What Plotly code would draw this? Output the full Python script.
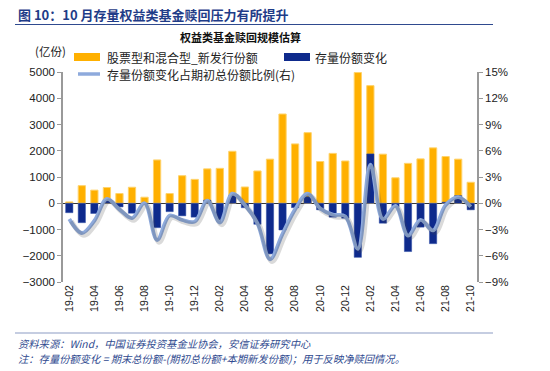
import plotly.graph_objects as go

months = ["19-02","19-03","19-04","19-05","19-06","19-07","19-08","19-09","19-10","19-11","19-12",
          "20-01","20-02","20-03","20-04","20-05","20-06","20-07","20-08","20-09","20-10","20-11","20-12",
          "21-01","21-02","21-03","21-04","21-05","21-06","21-07","21-08","21-09","21-10"]
new_issue = [50, 670, 500, 600, 370, 610, 230, 1650, 370, 1050, 910,
             1310, 1330, 1980, 620, 1230, 1680, 3400, 2260, 2690, 1590, 1900, 1610,
             4980, 4480, 1870, 970, 1520, 1690, 2110, 1780, 1680, 800]
stock_change = [-360, -740, -390, 90, -140, -380, -20, -930, -320, -480, -530,
                120, -630, 300, -170, -800, -1930, -1020, -170, 250, -250, -530, -570,
                -2060, 1880, -760, -130, -1840, -910, -1540, 40, 290, -250]
ratio_pct = [-1.8, -3.4, -2.0, 0.5, -0.7, -1.7, 0.0, -4.2, -1.4, -1.9, -2.1,
             0.3, -2.2, 1.1, -0.2, -2.3, -6.4, -3.5, -0.7, 1.1, -0.6, -1.3, -1.5,
             -5.2, 4.4, -1.8, -0.3, -3.7, -1.9, -3.1, -0.2, 0.7, -0.4]
tick_labels = months[::2]

ORANGE = "#FFB000"
NAVY = "#0E2A8C"
LINE = "#8EAADC"

W, H = 550, 371
L, R, T, B = 63, 477, 72, 282

def px(x):
    return (x - L) / (R - L)

def py(y):
    return (B - y) / (B - T)

fig = go.Figure()
fig.add_trace(go.Bar(x=months, y=new_issue, marker=dict(color=ORANGE, line=dict(color="#FFD36B", width=1)),
                     width=0.58, name="股票型和混合型_新发行份额"))
fig.add_trace(go.Bar(x=months, y=stock_change, marker=dict(color=NAVY, line=dict(color="#3050A8", width=0.5)),
                     width=0.58, name="存量份额变化"))
# soft shadow of the line
fig.add_trace(go.Scatter(x=months, y=ratio_pct, mode="lines", xaxis="x2", yaxis="y3",
                         line=dict(color="rgba(70,70,70,0.2)", width=5, shape="spline", smoothing=1.0),
                         hoverinfo="skip"))
fig.add_trace(go.Scatter(x=months, y=ratio_pct, mode="lines", yaxis="y2",
                         line=dict(color=LINE, width=3.8, shape="spline", smoothing=1.0),
                         name="存量份额变化占期初总份额比例(右)"))

font_main = "Liberation Sans, Arial, Noto Sans CJK SC, sans-serif"
CJK = "Noto Sans CJK SC"
fig.update_layout(
    width=W, height=H,
    margin=dict(l=L, r=W - R, t=T, b=H - B),
    paper_bgcolor="white", plot_bgcolor="white",
    barmode="overlay", showlegend=False,
    font=dict(family=font_main, size=11, color="#222"),
    xaxis=dict(type="category", categoryorder="array", categoryarray=months,
               range=[-0.5, len(months) - 0.5],
               tickmode="array", tickvals=tick_labels, ticktext=tick_labels,
               tickangle=-90, tickfont=dict(size=10.5, color="#222"),
               showline=False, ticks="", showgrid=False, zeroline=False),
    xaxis2=dict(type="category", categoryorder="array", categoryarray=months,
                range=[-0.5 - 0.16, len(months) - 0.5 - 0.16],
                overlaying="x", visible=False),
    yaxis=dict(range=[-3000, 5000], dtick=1000, showgrid=False,
               zeroline=True, zerolinecolor="#333", zerolinewidth=1,
               showline=True, linecolor="#999", linewidth=1.5,
               ticks="outside", ticklen=4, tickcolor="#999",
               tickfont=dict(size=11.5, color="#222")),
    yaxis2=dict(range=[-9, 15], dtick=3, overlaying="y", side="right",
                ticksuffix="%", showgrid=False, zeroline=False,
                showline=True, linecolor="#999", linewidth=1.5,
                ticks="outside", ticklen=4, tickcolor="#999",
                tickfont=dict(size=11.5, color="#222")),
    yaxis3=dict(range=[-9 + 0.25, 15 + 0.25], overlaying="y", visible=False),
)

shapes = []
annotations = []
# header title and rule
annotations.append(dict(text="<b>图 10：10 月存量权益类基金赎回压力有所提升</b>", x=px(16), y=py(14),
                        xref="paper", yref="paper", xanchor="left", yanchor="middle", showarrow=False,
                        font=dict(family=CJK, size=13, color="#1F3C88")))
shapes.append(dict(type="line", xref="paper", yref="paper", x0=px(15), x1=px(493), y0=py(24.5), y1=py(24.5),
                   line=dict(color="#2F4A8F", width=1.2)))
# chart title
annotations.append(dict(text="<b>权益类基金赎回规模估算</b>", x=px(240), y=py(37),
                        xref="paper", yref="paper", xanchor="center", yanchor="middle", showarrow=False,
                        font=dict(family=CJK, size=11, color="#111")))
# unit
annotations.append(dict(text="(亿份)", x=px(33), y=py(51), xref="paper", yref="paper",
                        xanchor="left", yanchor="middle", showarrow=False,
                        font=dict(family=CJK, size=11.5, color="#222")))
# legend
shapes.append(dict(type="rect", xref="paper", yref="paper", x0=px(74), x1=px(100), y0=py(61), y1=py(53),
                   fillcolor=ORANGE, line=dict(width=0)))
annotations.append(dict(text="股票型和混合型_新发行份额", x=px(105), y=py(57), xref="paper", yref="paper",
                        xanchor="left", yanchor="middle", showarrow=False,
                        font=dict(family=CJK, size=12, color="#222")))
shapes.append(dict(type="rect", xref="paper", yref="paper", x0=px(284), x1=px(310), y0=py(61), y1=py(53),
                   fillcolor=NAVY, line=dict(width=0)))
annotations.append(dict(text="存量份额变化", x=px(313), y=py(57), xref="paper", yref="paper",
                        xanchor="left", yanchor="middle", showarrow=False,
                        font=dict(family=CJK, size=12, color="#222")))
shapes.append(dict(type="line", xref="paper", yref="paper", x0=px(78), x1=px(100), y0=py(74), y1=py(74),
                   line=dict(color=LINE, width=3.5)))
annotations.append(dict(text="存量份额变化占期初总份额比例(右)", x=px(105), y=py(74), xref="paper", yref="paper",
                        xanchor="left", yanchor="middle", showarrow=False,
                        font=dict(family=CJK, size=12, color="#222")))
# footer
shapes.append(dict(type="line", xref="paper", yref="paper", x0=px(15), x1=px(493), y0=py(333), y1=py(333),
                   line=dict(color="#8C9CC4", width=1.2)))
annotations.append(dict(text="<i>资料来源：Wind，中国证券投资基金业协会，安信证券研究中心</i>", x=px(16), y=py(343),
                        xref="paper", yref="paper", xanchor="left", yanchor="middle", showarrow=False,
                        font=dict(family=CJK, size=10.3, color="#2F4A8F")))
annotations.append(dict(text="<i>注：存量份额变化 = 期末总份额-(期初总份额+本期新发份额)；用于反映净赎回情况。</i>",
                        x=px(16), y=py(358), xref="paper", yref="paper", xanchor="left", yanchor="middle",
                        showarrow=False, font=dict(family=CJK, size=10.3, color="#2F4A8F")))

fig.update_layout(shapes=shapes, annotations=annotations)
fig.write_html("out.html", config={"displayModeBar": False},
               post_script="document.body.style.margin='0';document.body.style.padding='0';document.body.style.overflow='hidden';")
